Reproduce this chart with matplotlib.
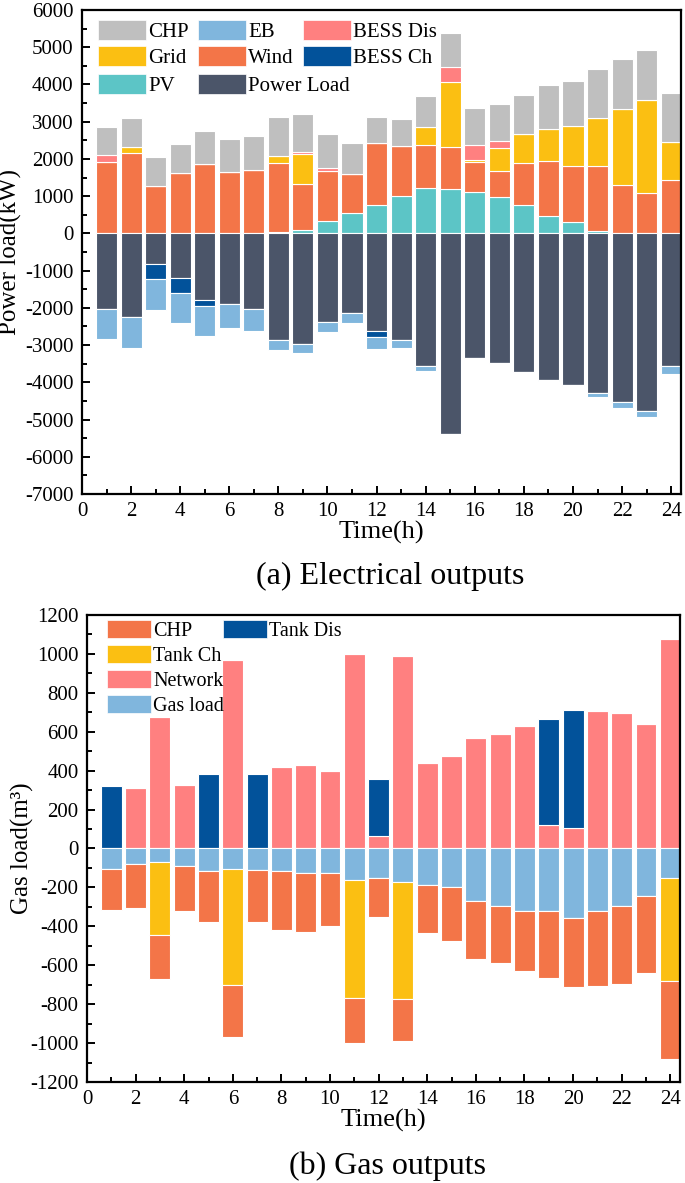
import numpy as np
import matplotlib
matplotlib.use("Agg")
import matplotlib.pyplot as plt
from matplotlib.patches import Patch
from matplotlib.ticker import MultipleLocator

plt.rcParams['font.family'] = ['Liberation Serif', 'DejaVu Serif']
plt.rcParams['axes.unicode_minus'] = False

hours = np.arange(1, 25)

# electrical outputs (kW)
pv = [0, 0, 0, 0, 0, 0, 15, 35, 100, 320, 554, 750, 1010, 1232, 1197, 1107, 973, 768, 464, 303, 54, 0, 0, 0]
wind = [1929, 2170, 1277, 1616, 1866, 1643, 1699, 1849, 1230, 1350, 1053, 1670, 1338, 1152, 1133, 813, 706, 1125, 1482, 1510, 1750, 1304, 1080, 1446]
grid = [0, 142, 0, 0, 0, 0, 0, 205, 804, 0, 0, 0, 0, 464, 1733, 44, 607, 777, 858, 1062, 1295, 2036, 2500, 1000]
bess_dis = [187, 0, 0, 0, 0, 0, 0, 0, 62, 80, 0, 0, 0, 0, 402, 402, 196, 0, 0, 0, 0, 0, 0, 0]
chp_e = [732, 787, 768, 786, 893, 902, 911, 1027, 1010, 920, 813, 696, 737, 840, 928, 991, 1000, 1053, 1169, 1215, 1303, 1348, 1340, 1331]
power_load = [2018, 2259, 813, 1187, 1786, 1902, 2018, 2857, 2982, 2384, 2143, 2616, 2857, 3563, 5393, 3357, 3482, 3723, 3938, 4072, 4286, 4527, 4768, 3554]
bess_ch = [0, 0, 410, 403, 160, 0, 0, 0, 0, 0, 0, 179, 0, 0, 0, 0, 0, 0, 0, 0, 0, 0, 0, 0]
eb = [822, 813, 822, 812, 813, 643, 607, 268, 232, 268, 268, 321, 228, 125, 0, 0, 0, 0, 35, 18, 107, 161, 152, 223]

# gas outputs (m3)
network = [0, 310, 676, 324, 0, 971, 0, 419, 431, 399, 1002, 65, 991, 438, 477, 567, 591, 632, 121, 106, 707, 695, 641, 1078]
tank_dis = [320, 0, 0, 0, 382, 0, 382, 0, 0, 0, 0, 293, 0, 0, 0, 0, 0, 0, 545, 606, 0, 0, 0, 0]
gas_load = [103, 80, 67, 91, 116, 103, 109, 116, 126, 126, 162, 152, 174, 188, 200, 270, 296, 320, 320, 355, 320, 297, 243, 152]
tank_ch = [0, 0, 377, 0, 0, 601, 0, 0, 0, 0, 604, 0, 602, 0, 0, 0, 0, 0, 0, 0, 0, 0, 0, 530]
chp_g = [215, 228, 229, 230, 263, 265, 270, 301, 303, 270, 235, 202, 215, 248, 274, 296, 294, 311, 345, 356, 386, 399, 398, 398]

c_chp = '#BFBFBF'
c_eb = '#80B6DD'
c_dis = '#FF8080'
c_grid = '#FBBF12'
c_wind = '#F37548'
c_ch = '#02529A'
c_pv = '#5CC5C6'
c_load = '#4B5569'

W = 0.86
ekw = dict(edgecolor='white', linewidth=0.8)


def stack(ax, series, sign=1):
    base = np.zeros(len(hours))
    for vals, col in series:
        v = sign * np.array(vals, dtype=float)
        ax.bar(hours, v, W, bottom=base, color=col, **ekw)
        base = base + v


def style(ax):
    ax.set_xlim(0, 24.4)
    ax.set_xticks(range(0, 25, 2))
    ax.xaxis.set_minor_locator(MultipleLocator(1))
    ax.tick_params(which='both', direction='in', top=False, right=False,
                   labelsize=15, width=1.4, pad=6)
    ax.tick_params(which='major', length=6)
    ax.tick_params(which='minor', length=3.5)
    for s in ax.spines.values():
        s.set_linewidth(1.6)
    ax.set_xlabel('Time(h)', fontsize=19, labelpad=0)


fig = plt.figure(figsize=(6.85, 11.83), dpi=100)

# (a) electrical
ax1 = fig.add_axes([82 / 685, 1 - 494 / 1183, 599 / 685, 484 / 1183])
stack(ax1, [(pv, c_pv), (wind, c_wind), (grid, c_grid), (bess_dis, c_dis), (chp_e, c_chp)])
stack(ax1, [(power_load, c_load), (bess_ch, c_ch), (eb, c_eb)], sign=-1)
ax1.set_ylim(-7000, 6000)
ax1.set_yticks(range(-7000, 6001, 1000))
ax1.yaxis.set_minor_locator(MultipleLocator(500))
style(ax1)
ax1.set_ylabel('Power load(kW)', fontsize=18)
ax1.yaxis.set_label_coords(-0.1, 0.5)

hs = dict(edgecolor='white', linewidth=0.5)
leg_a = ax1.legend([Patch(facecolor=c, **hs) for c in [c_chp, c_grid, c_eb, c_wind, c_dis, c_ch]],
                   ['CHP', 'Grid', 'EB', 'Wind', 'BESS Dis', 'BESS Ch'],
                   ncol=3, loc='upper left', bbox_to_anchor=(16 / 599, 1 - 10 / 484),
                   frameon=False, fontsize=15, borderpad=0, borderaxespad=0,
                   handlelength=2.3, handleheight=1.1, handletextpad=0.1,
                   labelspacing=0.18, columnspacing=0.45)
ax1.add_artist(leg_a)
ax1.legend([Patch(facecolor=c, **hs) for c in [c_pv, c_load]], ['PV', 'Power Load'],
           ncol=2, loc='upper left', bbox_to_anchor=(16 / 599, 1 - 63.5 / 484),
           frameon=False, fontsize=15, borderpad=0, borderaxespad=0,
           handlelength=2.3, handleheight=1.1, handletextpad=0.1,
           columnspacing=1.12)

fig.text(0.57, 1 - 576 / 1183, '(a) Electrical outputs', fontsize=23, ha='center', va='center')

# (b) gas
ax2 = fig.add_axes([87 / 685, 1 - 1082 / 1183, 593 / 685, 467 / 1183])
stack(ax2, [(network, c_dis), (tank_dis, c_ch)])
stack(ax2, [(gas_load, c_eb), (tank_ch, c_grid), (chp_g, c_wind)], sign=-1)
ax2.set_ylim(-1200, 1200)
ax2.set_yticks(range(-1200, 1201, 200))
ax2.yaxis.set_minor_locator(MultipleLocator(100))
style(ax2)
ax2.set_ylabel('Gas load(m³)', fontsize=18)
ax2.yaxis.set_label_coords(-0.09, 0.5)

gkw = dict(loc='upper left', frameon=False, fontsize=14.5, borderpad=0, borderaxespad=0,
           handlelength=2.2, handleheight=1.0, handletextpad=0.1, labelspacing=0.2)
leg_b = ax2.legend([Patch(facecolor=c, **hs) for c in [c_wind, c_grid, c_dis, c_eb]],
                   ['CHP', 'Tank Ch', 'Network', 'Gas load'],
                   bbox_to_anchor=(20 / 593, 1 - 5 / 467), **gkw)
ax2.add_artist(leg_b)
ax2.legend([Patch(facecolor=c_ch, **hs)], ['Tank Dis'],
           bbox_to_anchor=(136 / 593, 1 - 5 / 467), **gkw)

fig.text(0.565, 1 - 1166 / 1183, '(b) Gas outputs', fontsize=23, ha='center', va='center')

fig.savefig('out.png', dpi=100)
